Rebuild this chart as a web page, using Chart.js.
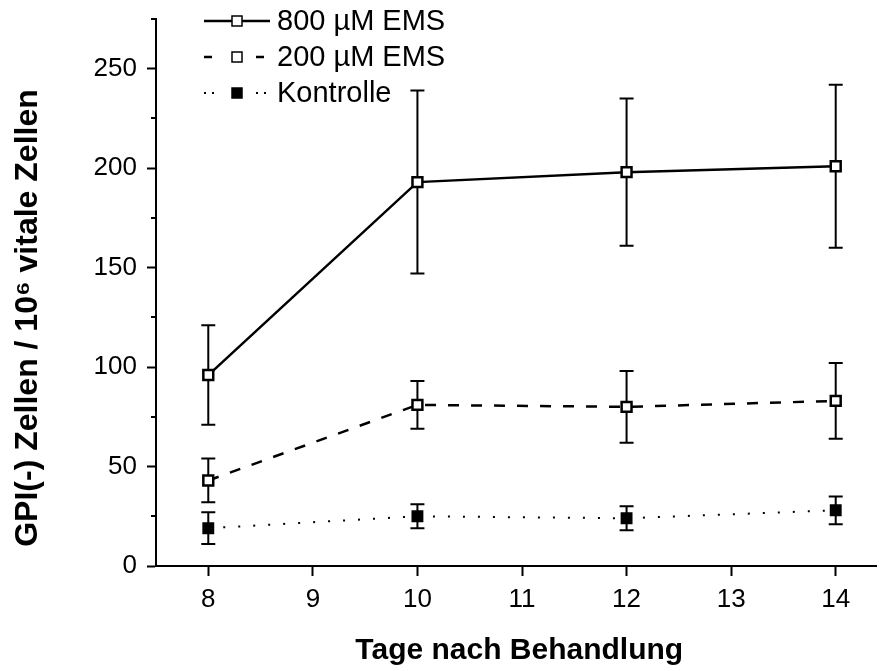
<!DOCTYPE html>
<html>
<head>
<meta charset="utf-8">
<script src="https://cdn.jsdelivr.net/npm/chart.js@4.4.1/dist/chart.umd.min.js"></script>
<style>
  html, body { margin: 0; padding: 0; background: #fff; }
</style>
</head>
<body>
<canvas id="chart" width="886" height="671"></canvas>
<script>
// Tage nach Behandlung
const days = [8, 10, 12, 14];

// GPI(-) Zellen / 10^6 vitale Zellen, mean and error
const ems800 = [96, 193, 198, 201];
const ems800Err = [25, 46, 37, 41];
const ems200 = [43, 81, 80, 83];
const ems200Err = [11, 12, 18, 19];
const kontrolle = [19, 25, 24, 28];
const kontrolleErr = [8, 6, 6, 7];

const xTicks = [8, 9, 10, 11, 12, 13, 14];
const yTicks = [0, 50, 100, 150, 200, 250];
const yMinorTicks = [25, 75, 125, 175, 225, 275];

const FONT = "'Liberation Sans', Arial, sans-serif";

const toPoints = (vals) => vals.map((v, i) => ({ x: days[i], y: v }));

/**
 * Vertical error bars with caps, drawn under the lines and markers
 */
const errorBars = {
  id: "errorBars",
  beforeDatasetsDraw(chart) {
    const { ctx, scales: { x, y } } = chart;
    ctx.save();
    ctx.strokeStyle = "#000";
    ctx.lineWidth = 2;
    chart.data.datasets.forEach((ds) => {
      ds.data.forEach((pt, i) => {
        const e = ds.errors[i];
        const px = x.getPixelForValue(pt.x);
        const top = y.getPixelForValue(pt.y + e);
        const bot = y.getPixelForValue(pt.y - e);
        ctx.beginPath();
        ctx.moveTo(px, top);
        ctx.lineTo(px, bot);
        ctx.moveTo(px - 7, top);
        ctx.lineTo(px + 7, top);
        ctx.moveTo(px - 7, bot);
        ctx.lineTo(px + 7, bot);
        ctx.stroke();
      });
    });
    ctx.restore();
  },
};

/**
 * Short minor ticks on the y axis
 */
const minorTicks = {
  id: "minorTicks",
  afterDraw(chart) {
    const { ctx, scales: { y }, chartArea } = chart;
    ctx.save();
    ctx.strokeStyle = "#000";
    ctx.lineWidth = 2;
    yMinorTicks.forEach((v) => {
      const py = Math.round(y.getPixelForValue(v));
      ctx.beginPath();
      ctx.moveTo(chartArea.left - 5, py);
      ctx.lineTo(chartArea.left, py);
      ctx.stroke();
    });
    ctx.restore();
  },
};

/**
 * Legend with line sample + marker, top left inside the plot
 */
const lineLegend = {
  id: "lineLegend",
  afterDraw(chart) {
    const { ctx } = chart;
    const rows = [21, 57, 93];
    ctx.save();
    chart.data.datasets.forEach((ds, i) => {
      const rowY = rows[i];
      ctx.strokeStyle = "#000";
      ctx.lineWidth = ds.borderWidth;
      ctx.setLineDash(ds.legendDash || []);
      ctx.beginPath();
      ctx.moveTo(204, rowY);
      ctx.lineTo(270, rowY);
      ctx.stroke();
      ctx.setLineDash([]);
      ctx.fillStyle = ds.pointBackgroundColor;
      ctx.fillRect(232, rowY - 5, 10, 10);
      ctx.lineWidth = 1.5;
      ctx.strokeRect(232, rowY - 5, 10, 10);
      ctx.fillStyle = "#000";
      ctx.font = `29px ${FONT}`;
      ctx.textAlign = "left";
      ctx.textBaseline = "middle";
      ctx.fillText(ds.label, 277, rowY + 1);
    });
    ctx.restore();
  },
};

/**
 * Axis titles placed like the original figure
 */
const axisTitles = {
  id: "axisTitles",
  afterDraw(chart) {
    const { ctx, chartArea } = chart;
    ctx.save();
    ctx.fillStyle = "#000";
    ctx.font = `bold 30px ${FONT}`;
    ctx.textAlign = "center";
    ctx.textBaseline = "middle";
    ctx.fillText("Tage nach Behandlung", (chartArea.left + chartArea.right) / 2 + 3, 651);
    ctx.font = `bold 32px ${FONT}`;
    ctx.translate(28, 318);
    ctx.rotate(-Math.PI / 2);
    ctx.fillText("GPI(-) Zellen / 10\u2076 vitale Zellen", 0, 0);
    ctx.restore();
  },
};

const axisStyle = {
  grid: {
    drawOnChartArea: false,
    drawTicks: true,
    tickLength: 10,
    tickWidth: 2,
    tickColor: "#000",
  },
  border: { display: true, color: "#000", width: 2 },
};

const noPadding = (scale) => {
  scale.paddingTop = 0;
  scale.paddingBottom = 0;
  scale.paddingLeft = 0;
  scale.paddingRight = 0;
};

const chart = new Chart(document.getElementById("chart"), {
  type: "line",
  data: {
    datasets: [
      {
        label: "800 \u00b5M EMS",
        data: toPoints(ems800),
        errors: ems800Err,
        borderColor: "#000",
        borderWidth: 2.5,
        pointBackgroundColor: "#fff",
        legendDash: [],
      },
      {
        label: "200 \u00b5M EMS",
        data: toPoints(ems200),
        errors: ems200Err,
        borderColor: "#000",
        borderWidth: 2.5,
        borderDash: [11, 12],
        pointBackgroundColor: "#fff",
        legendDash: [8, 44],
      },
      {
        label: "Kontrolle",
        data: toPoints(kontrolle),
        errors: kontrolleErr,
        borderColor: "#000",
        borderWidth: 2,
        borderDash: [2, 13],
        pointBackgroundColor: "#000",
        legendDash: [2, 6, 2, 42],
      },
    ],
  },
  options: {
    responsive: false,
    animation: false,
    events: [],
    devicePixelRatio: 1,
    layout: { padding: { top: 19, left: 0, right: 0, bottom: 0 } },
    elements: {
      line: { tension: 0, fill: false },
      point: {
        pointStyle: "rect",
        radius: 7,
        borderWidth: 1.5,
        borderColor: "#000",
      },
    },
    plugins: {
      legend: { display: false },
      tooltip: { enabled: false },
    },
    scales: {
      x: {
        type: "linear",
        min: 7.5,
        max: 14.39,
        ...axisStyle,
        afterBuildTicks: (scale) => {
          scale.ticks = xTicks.map((v) => ({ value: v }));
        },
        afterFit: (scale) => {
          scale.height = 105;
          noPadding(scale);
        },
        ticks: {
          autoSkip: false,
          maxRotation: 0,
          padding: 8,
          color: "#000",
          font: { family: FONT, size: 26 },
        },
      },
      y: {
        type: "linear",
        min: 0,
        max: 275,
        ...axisStyle,
        grid: { ...axisStyle.grid, tickLength: 9 },
        afterBuildTicks: (scale) => {
          scale.ticks = yTicks.map((v) => ({ value: v }));
        },
        afterFit: (scale) => {
          scale.width = 156;
          noPadding(scale);
        },
        ticks: {
          padding: 10,
          color: "#000",
          font: { family: FONT, size: 26 },
        },
      },
    },
  },
  plugins: [errorBars, minorTicks, lineLegend, axisTitles],
});
</script>
</body>
</html>
